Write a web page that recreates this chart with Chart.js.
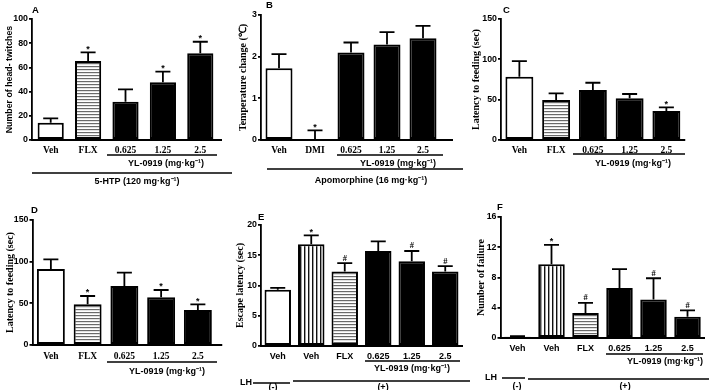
<!DOCTYPE html>
<html>
<head>
<meta charset="utf-8">
<script src="https://cdn.jsdelivr.net/npm/chart.js@4.4.0/dist/chart.umd.min.js"></script>
<style>
  html, body { margin: 0; padding: 0; background: #fff; width: 709px; height: 390px; overflow: hidden; }
  canvas { position: absolute; left: 0; top: 0; }
</style>
</head>
<body>
<canvas id="panelA" width="709" height="390"></canvas>
<canvas id="panelB" width="709" height="390"></canvas>
<canvas id="panelC" width="709" height="390"></canvas>
<canvas id="panelD" width="709" height="390"></canvas>
<canvas id="panelE" width="709" height="390"></canvas>
<canvas id="panelF" width="709" height="390"></canvas>
<script>
// A: head-twitch test
const labelsA = ['Veh', 'FLX', '0.625', '1.25', '2.5'];
const meanA = [14.3, 65.3, 31.7, 47.7, 71.6];
const semA = [3.6, 7.2, 10.2, 8.8, 9.6];
const sigA = ['', '*', '', '*', '*'];

// B: apomorphine hypothermia
const labelsB = ['Veh', 'DMI', '0.625', '1.25', '2.5'];
const meanB = [1.72, 0.01, 2.1, 2.29, 2.44];
const semB = [0.34, 0.22, 0.24, 0.3, 0.3];
const sigB = ['', '*', '', '', ''];

// C: novelty suppressed feeding (acute)
const labelsC = ['Veh', 'FLX', '0.625', '1.25', '2.5'];
const meanC = [78.5, 49.6, 62, 51.7, 36];
const semC = [19.4, 8.3, 9, 5.3, 4.5];
const sigC = ['', '', '', '', '*'];

// D: novelty suppressed feeding (chronic)
const labelsD = ['Veh', 'FLX', '0.625', '1.25', '2.5'];
const meanD = [91.2, 48.8, 70.8, 57.2, 42];
const semD = [11.6, 10, 16, 8.8, 6.8];
const sigD = ['', '*', '', '*', '*'];

// E: learned helplessness, escape latency
const labelsE = ['Veh', 'Veh', 'FLX', '0.625', '1.25', '2.5'];
const meanE = [9.3, 16.8, 12.3, 15.7, 14.0, 12.3];
const semE = [0.3, 1.5, 1.4, 1.6, 1.7, 0.9];
const sigE = ['', '*', '#', '', '#', '#'];

// F: learned helplessness, number of failures
const labelsF = ['Veh', 'Veh', 'FLX', '0.625', '1.25', '2.5'];
const meanF = [0.15, 9.76, 3.3, 6.6, 5.1, 2.8];
const semF = [0.08, 2.55, 1.35, 2.5, 2.8, 0.85];
const sigF = ['', '*', '#', '', '#', '#'];

const unit = 'YL-0919 (mg\u00b7kg\u207b\u00b9)';
const SANS = 'Liberation Sans';
const SERIF = 'Liberation Serif';

function stripes(dir) {
  const c = document.createElement('canvas');
  const g = c.getContext('2d');
  if (dir === 'h') {
    c.width = 3; c.height = 3;
    g.fillStyle = '#fff'; g.fillRect(0, 0, 3, 3);
    g.fillStyle = '#6a6a6a'; g.fillRect(0, 0, 3, 1.2);
  } else {
    c.width = 4; c.height = 4;
    g.fillStyle = '#fff'; g.fillRect(0, 0, 4, 4);
    g.fillStyle = '#111'; g.fillRect(0, 0, 1.4, 4);
  }
  return g.createPattern(c, 'repeat');
}
const fills = { w: '#ffffff', k: '#000000', h: stripes('h'), v: stripes('v') };

function extras(p) {
  return {
    id: 'extras',
    afterDatasetsDraw(chart) {
      const ctx = chart.ctx, y = chart.scales.y;
      ctx.save();
      ctx.strokeStyle = '#000';
      ctx.fillStyle = '#000';
      ctx.lineWidth = 1.8;
      ctx.textAlign = 'center';
      ctx.textBaseline = 'bottom';
      chart.getDatasetMeta(0).data.forEach((bar, i) => {
        const top = y.getPixelForValue(p.mean[i] + p.sem[i]);
        ctx.beginPath();
        ctx.moveTo(bar.x, bar.y);
        ctx.lineTo(bar.x, top);
        ctx.moveTo(bar.x - 7.5, top);
        ctx.lineTo(bar.x + 7.5, top);
        ctx.stroke();
        if (p.sig[i]) {
          ctx.font = p.sig[i] === '*' ? 'bold 9px ' + SANS : 'bold 8.5px ' + SERIF;
          ctx.fillText(p.sig[i], bar.x, top - (p.sig[i] === '*' ? -1.5 : 0.5));
        }
      });
      ctx.restore();
    },
    afterDraw(chart) {
      const ctx = chart.ctx, a = chart.chartArea;
      ctx.save();
      ctx.strokeStyle = '#000';
      ctx.fillStyle = '#000';
      ctx.lineWidth = 1.8;
      ctx.beginPath();
      ctx.moveTo(a.left - 0.9, a.bottom);
      ctx.lineTo(a.right + p.ext, a.bottom);
      ctx.stroke();
      ctx.lineWidth = 1.5;
      p.lines.forEach(([x0, x1, ly]) => {
        ctx.beginPath();
        ctx.moveTo(x0, ly);
        ctx.lineTo(x1, ly);
        ctx.stroke();
      });
      ctx.textAlign = 'center';
      ctx.textBaseline = 'middle';
      p.texts.forEach(([t, tx, ty, f]) => {
        ctx.font = f;
        ctx.fillText(t, tx, ty);
      });
      ctx.textAlign = 'left';
      ctx.font = 'bold 9.5px ' + SANS;
      ctx.fillText(p.letter[0], p.letter[1], p.letter[2]);
      ctx.restore();
    }
  };
}

function panel(id, p) {
  new Chart(document.getElementById(id), {
    type: 'bar',
    data: {
      labels: p.labels,
      datasets: [{
        data: p.mean,
        backgroundColor: p.fill.map(f => fills[f]),
        borderColor: '#000',
        borderWidth: 2,
        borderSkipped: false,
        barPercentage: p.barPct,
        categoryPercentage: 1
      }]
    },
    options: {
      responsive: false,
      animation: false,
      events: [],
      layout: { padding: { left: p.axisX - p.yWidth, top: p.top, right: 709 - p.right, bottom: 0 } },
      plugins: { legend: { display: false }, tooltip: { enabled: false } },
      scales: {
        x: {
          offset: true,
          grid: { display: false, drawTicks: false },
          border: { display: false },
          ticks: { color: '#000', font: p.xFont, padding: p.xPad, maxRotation: 0, autoSkip: false },
          afterFit(s) { s.height = 390 - p.bottom; }
        },
        y: {
          min: 0,
          max: p.max,
          ticks: { stepSize: p.step, color: '#000', font: { family: SANS, weight: 'bold', size: 8.8 }, padding: 1 },
          grid: { drawOnChartArea: false, drawTicks: true, tickLength: 3, color: '#000', lineWidth: 1.8 },
          border: { display: true, color: '#000', width: 1.8 },
          title: { display: true, text: p.title, color: '#000', font: p.titleFont, padding: 0 },
          afterFit(s) { s.width = p.yWidth; }
        }
      }
    },
    plugins: [extras(p)]
  });
}

const serifTick = { family: SERIF, weight: 'bold', size: 9.5 };
const sansTick = { family: SANS, weight: 'bold', size: 9 };
const serifTitle = { family: SERIF, weight: 'bold', size: 10 };
const noteFont = 'bold 9px ' + SANS;

panel('panelA', {
  labels: labelsA, mean: meanA, sem: semA, sig: sigA, fill: ['w', 'h', 'k', 'k', 'k'],
  axisX: 32, yWidth: 28, top: 19, bottom: 140, right: 219, ext: 3, barPct: 0.7,
  max: 100, step: 20, xFont: serifTick, xPad: 5,
  title: 'Number of head- twitches', titleFont: { family: SANS, weight: 'bold', size: 8.8 },
  lines: [[107, 217, 155], [32, 232, 173]],
  texts: [[unit, 166, 164, noteFont], ['5-HTP (120 mg\u00b7kg\u207b\u00b9)', 137, 182, noteFont]],
  letter: ['A', 32, 10]
});

panel('panelB', {
  labels: labelsB, mean: meanB, sem: semB, sig: sigB, fill: ['w', 'w', 'k', 'k', 'k'],
  axisX: 261, yWidth: 24, top: 15, bottom: 140, right: 441, ext: 12, barPct: 0.75,
  max: 3, step: 1, xFont: serifTick, xPad: 5,
  title: 'Temperature change (\u2103)', titleFont: serifTitle,
  lines: [[337, 443, 155], [267, 463, 169]],
  texts: [[unit, 398, 164, noteFont], ['Apomorphine (16 mg\u00b7kg\u207b\u00b9)', 371, 181, noteFont]],
  letter: ['B', 266, 5]
});

panel('panelC', {
  labels: labelsC, mean: meanC, sem: semC, sig: sigC, fill: ['w', 'h', 'k', 'k', 'k'],
  axisX: 501, yWidth: 31, top: 19, bottom: 140, right: 684.75, ext: 0.5, barPct: 0.76,
  max: 150, step: 50, xFont: serifTick, xPad: 5,
  title: 'Latency to feeding (sec)', titleFont: serifTitle,
  lines: [[573, 685, 154]],
  texts: [[unit, 633, 164, noteFont]],
  letter: ['C', 503, 10]
});

panel('panelD', {
  labels: labelsD, mean: meanD, sem: semD, sig: sigD, fill: ['w', 'h', 'k', 'k', 'k'],
  axisX: 32.5, yWidth: 28, top: 220, bottom: 345, right: 216.25, ext: 6, barPct: 0.76,
  max: 150, step: 50, xFont: serifTick, xPad: 6,
  title: 'Latency to feeding (sec)', titleFont: serifTitle,
  lines: [[107, 217, 362]],
  texts: [[unit, 167, 372, noteFont]],
  letter: ['D', 31, 210]
});

panel('panelE', {
  labels: labelsE, mean: meanE, sem: semE, sig: sigE, fill: ['w', 'v', 'h', 'k', 'k', 'k'],
  axisX: 261, yWidth: 27, top: 225, bottom: 346, right: 462, ext: 1, barPct: 0.79,
  max: 20, step: 5, xFont: sansTick, xPad: 5,
  title: 'Escape latency (sec)', titleFont: serifTitle,
  lines: [[365, 460, 361], [253, 290, 383], [293, 470, 381]],
  texts: [[unit, 412, 369, noteFont], ['LH', 246, 383, noteFont], ['(-)', 273, 388, noteFont], ['(+)', 383, 388, noteFont]],
  letter: ['E', 258, 217]
});

panel('panelF', {
  labels: labelsF, mean: meanF, sem: semF, sig: sigF, fill: ['w', 'v', 'h', 'k', 'k', 'k'],
  axisX: 500.5, yWidth: 25, top: 217, bottom: 338, right: 704.5, ext: 0.5, barPct: 0.78,
  max: 16, step: 4, xFont: sansTick, xPad: 5,
  title: 'Number of failure', titleFont: serifTitle,
  lines: [[606, 703, 354], [502, 525, 378], [528, 709, 379]],
  texts: [[unit, 665, 362, noteFont], ['LH', 491, 378, noteFont], ['(-)', 517, 387, noteFont], ['(+)', 625, 387, noteFont]],
  letter: ['F', 497, 207]
});
</script>
</body>
</html>
